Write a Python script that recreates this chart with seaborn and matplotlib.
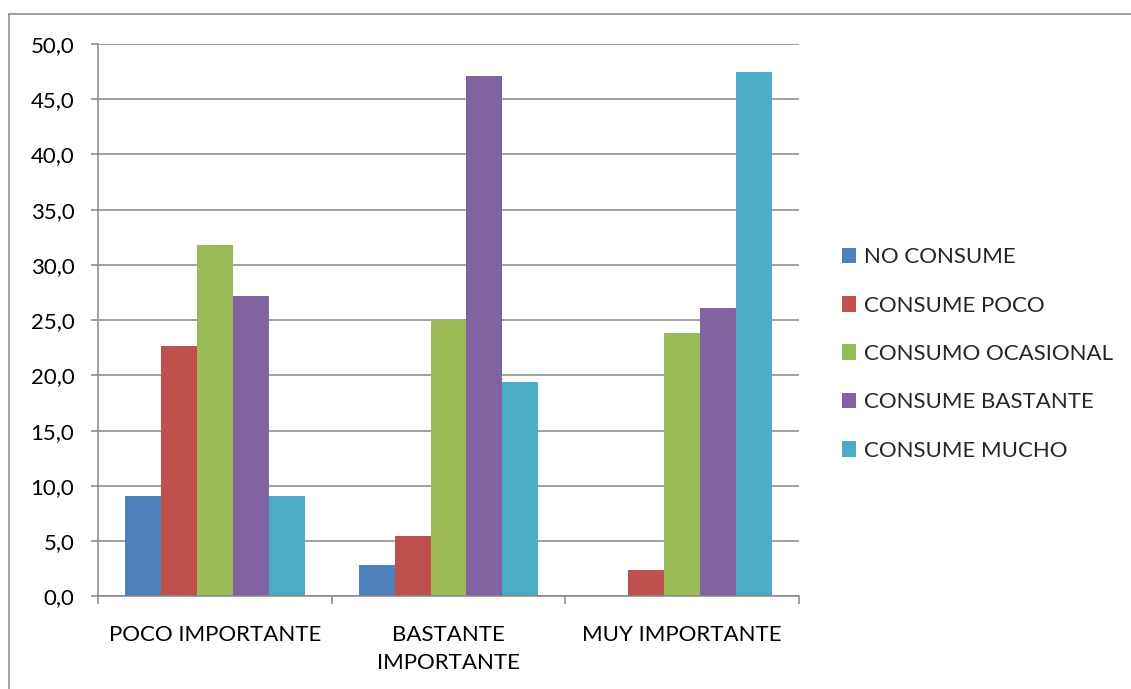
import matplotlib
matplotlib.use("Agg")
import matplotlib.pyplot as plt
from matplotlib.lines import Line2D
from matplotlib.ticker import FuncFormatter, FixedLocator, NullFormatter
import seaborn as sns
import pandas as pd

# Data
categories = ["POCO IMPORTANTE", "BASTANTE\nIMPORTANTE", "MUY IMPORTANTE"]
series = ["NO CONSUME", "CONSUME POCO", "CONSUMO OCASIONAL",
          "CONSUME BASTANTE", "CONSUME MUCHO"]
no_consume = [9.1, 2.8, 0.0]
consume_poco = [22.7, 5.5, 2.4]
consumo_ocasional = [31.8, 25.0, 23.8]
consume_bastante = [27.2, 47.1, 26.1]
consume_mucho = [9.1, 19.4, 47.5]
colors = ["#4F81BD", "#C0504D", "#9BBB59", "#8064A2", "#4BACC6"]

values = [no_consume, consume_poco, consumo_ocasional, consume_bastante, consume_mucho]
rows = []
for s, vals in zip(series, values):
    for c, v in zip(categories, vals):
        rows.append({"categoria": c, "serie": s, "valor": v})
df = pd.DataFrame(rows)

sns.set_theme(style="white")
plt.rcParams["font.family"] = ["Lato", "DejaVu Sans"]

W, H = 1131, 689
fig = plt.figure(figsize=(W / 100, H / 100), dpi=100)
ax = fig.add_axes([98 / W, 1 - 596.3 / H, (799 - 98) / W, (596.3 - 44) / H])

grid_c = "#868686"
sns.barplot(data=df, x="categoria", y="valor", hue="serie", order=categories,
            hue_order=series, palette=colors, saturation=1, width=0.77,
            linewidth=0, ax=ax, legend=True)

ax.set_xlim(-0.5, 2.5)
ax.set_ylim(0, 50)
ax.set_yticks([i * 5 for i in range(11)])
ax.yaxis.set_major_formatter(FuncFormatter(lambda v, p: f"{v:.1f}".replace(".", ",")))
ax.yaxis.grid(True, color=grid_c, linewidth=1.1)
ax.set_axisbelow(True)
ax.set_xlabel("")
ax.set_ylabel("")

for side in ["top", "right"]:
    ax.spines[side].set_visible(False)
for side in ["left", "bottom"]:
    ax.spines[side].set_color(grid_c)
    ax.spines[side].set_linewidth(1.1)

ax.tick_params(axis="y", direction="out", length=5, width=1.1, color=grid_c,
               pad=12, labelsize=16, labelcolor="#000000", left=True)
ax.tick_params(axis="x", which="major", length=0, pad=21, labelsize=16,
               labelcolor="#000000")
ax.xaxis.set_minor_locator(FixedLocator([-0.5, 0.5, 1.5, 2.5]))
ax.xaxis.set_minor_formatter(NullFormatter())
ax.tick_params(axis="x", which="minor", direction="out", length=5.5, width=1.1,
               color=grid_c, bottom=True)
for t in ax.get_xticklabels():
    t.set_linespacing(1.45)
    t.set_verticalalignment("top")

handles, labels = ax.get_legend_handles_labels()
ax.get_legend().remove()
fig.legend(handles, labels, loc="center left", bbox_to_anchor=(842 / W, 1 - 354 / H),
           frameon=False, fontsize=16, handlelength=0.65, handleheight=0.7,
           handletextpad=0.35, labelspacing=1.28, borderpad=0, borderaxespad=0)

# Outer chart frame
fig.add_artist(Line2D([9 / W, 9 / W], [0, 1 - 14 / H], transform=fig.transFigure,
                      color=grid_c, linewidth=1.1))
fig.add_artist(Line2D([9 / W, 1], [1 - 14 / H, 1 - 14 / H], transform=fig.transFigure,
                      color=grid_c, linewidth=1.1))

fig.savefig("out.png", dpi=100, facecolor="white")
